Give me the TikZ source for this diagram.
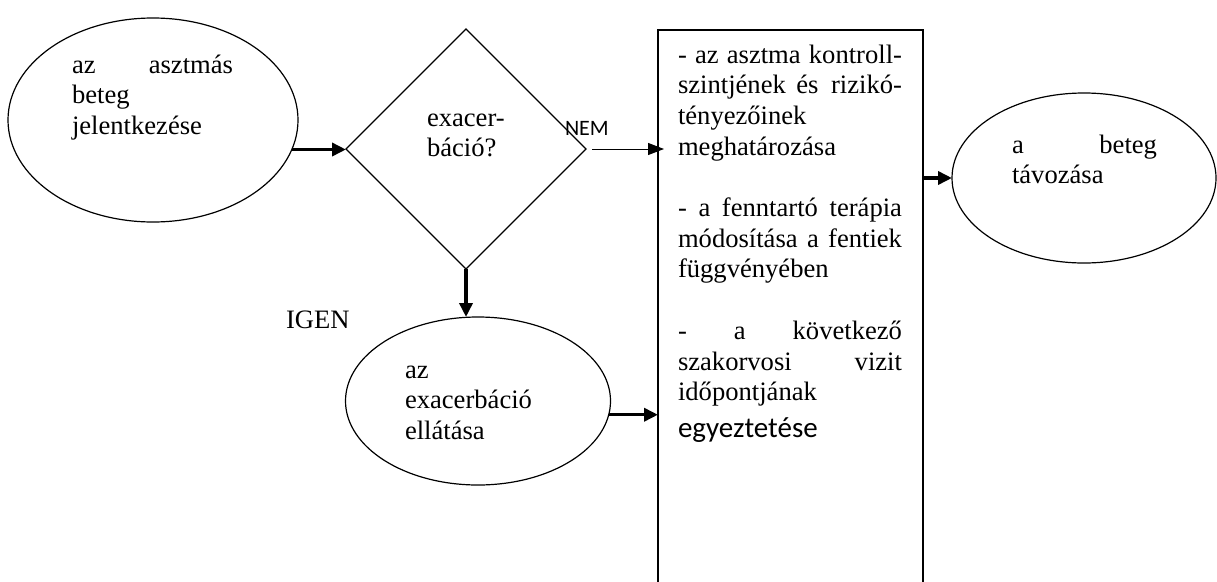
\documentclass[tikz,border=0pt]{standalone}
\usepackage{fontspec}
\setmainfont{Liberation Serif}
\newfontfamily\calfont{Carlito}
\usetikzlibrary{shapes.geometric,arrows.meta}
\newcommand{\jline}[2]{\makebox[#1][l]{#2}}
\begin{document}
\begin{tikzpicture}[x=1pt,y=-1pt,
  every node/.style={inner sep=0pt,outer sep=0pt},
  shapeline/.style={draw,line width=1.2pt},
  oval/.style={shapeline,ellipse},
  txt/.style={anchor=base west,align=left,font=\fontsize{26.6}{30.5}\selectfont},
  recttxt/.style={anchor=base west,align=left,font=\fontsize{26.6}{30.7}\selectfont},
  bigarrow/.style={line width=3.5pt,-{Triangle[length=14pt,width=13pt]}},
  thinarrow/.style={line width=1pt,-{Triangle[length=16pt,width=12pt]}}]
\useasboundingbox (0,0) rectangle (1217,581);
\clip (0,0) rectangle (1217,581);

% shapes
\node[oval,minimum width=290,minimum height=204] (e1) at (153,120) {};
\node[shapeline,diamond,minimum width=240,minimum height=240] (d) at (466,149) {};
\node[shapeline,rectangle,anchor=north west,minimum width=265,minimum height=700] (r) at (658,30) {};
\node[oval,minimum width=264,minimum height=170] (e2) at (1084,178) {};
\node[oval,minimum width=265,minimum height=168] (e3) at (478,401) {};

% texts
\node[txt,text width=162] (e1t) at (72,73) {\jline{161pt}{az\hfill asztmás}\\beteg\\jelentkezése};
\node[txt,text width=100] (dt) at (427,126) {exacer-\\báció?};
\node[anchor=base west,font=\calfont\fontsize{22}{26}\selectfont] (nem) at (565,135) {NEM};
\node[txt] (igen) at (286,328) {IGEN};
\node[txt,text width=160] (e3t) at (405,378) {az\\exacerbáció\\ellátása};
\node[txt,text width=146] (e2t) at (1012,153) {\jline{145pt}{a\hfill beteg}\\távozása};
\node[recttxt,text width=224] (rt) at (678,63) {%
\jline{224pt}{-\hfill az\hfill asztma\hfill kontroll-}\\
\jline{224pt}{szintjének\hspace{10.5pt}és\hfill rizikó-}\\
tényezőinek\\
meghatározása\\[30.7pt]
\jline{224pt}{-\hfill a\hfill fenntartó\hfill terápia}\\
\jline{224pt}{módosítása\hfill a\hfill fentiek}\\
függvényében\\[30.7pt]
\jline{224pt}{-\hfill a\hfill következő}\\
\jline{224pt}{szakorvosi\hfill vizit}\\
időpontjának\\[6pt]
{\calfont\fontsize{29}{36}\selectfont egyeztetése}};

% connectors
\draw[bigarrow] (e1.-12.2) -- (e1.-12.2 -| d.west);
\draw[thinarrow] ([xshift=6]d.east) -- ([xshift=6]d.east -| r.west);
\draw[bigarrow] (d.south) -- (d.south |- e3.north);
\draw[bigarrow] (e3.-6) -- (e3.-6 -| r.west);
\draw[bigarrow] (r.east |- e2.west) -- (e2.west);
\end{tikzpicture}
\end{document}
